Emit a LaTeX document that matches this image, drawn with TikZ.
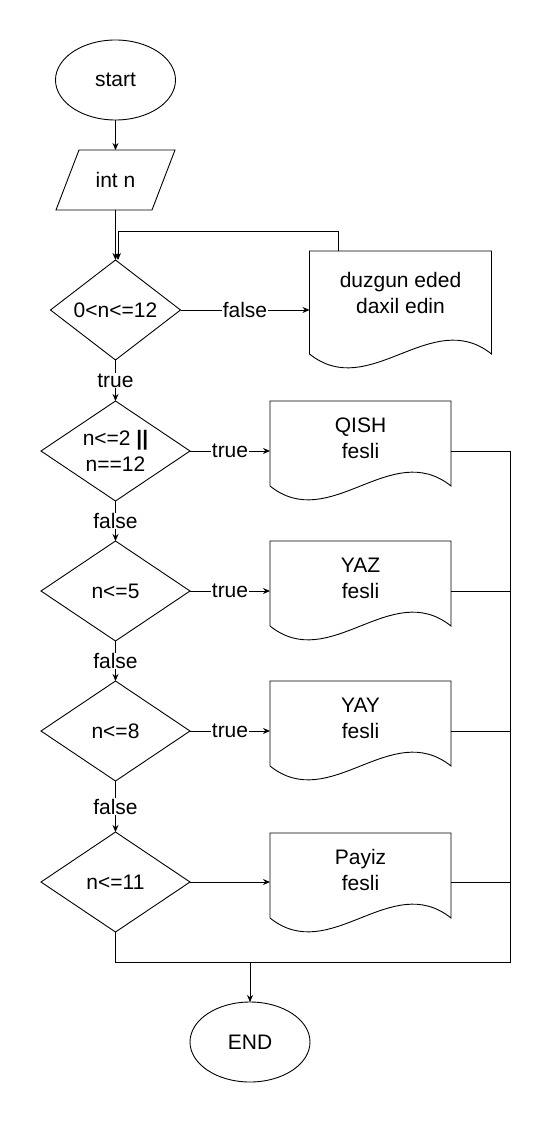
\documentclass[tikz,border=0pt]{standalone}
\usepackage{fontspec}
\setmainfont{Liberation Sans}
\usetikzlibrary{shapes.geometric}
\usetikzlibrary{positioning}
\usetikzlibrary{arrows.meta}
\usetikzlibrary{calc}

% outline of a document shape: node name, extra length of the sides
\newcommand{\docoutline}[2]{%
    \draw (#1.north west) -- (#1.north east) -- ([yshift=-#2]#1.south east)
        .. controls +(-60pt,48pt) and +(60pt,-48pt) .. ([yshift=-#2]#1.south west) -- cycle;}

% outline of a slanted input box: node name, half of the slant
\newcommand{\iooutline}[2]{%
    \draw ([xshift=#2]#1.north west) -- ([xshift=#2]#1.north east)
        -- ([xshift=-#2]#1.south east) -- ([xshift=-#2]#1.south west) -- cycle;}

\begin{document}
\begin{tikzpicture}[
                line width=0.9pt,
                font=\fontsize{21}{26}\selectfont,
                >={Stealth[length=7pt,width=6pt]},
                outer sep=0pt,
                term/.style={
                        draw,
                        ellipse,
                        minimum width=120pt,
                        minimum height=80pt,
                        inner sep=0pt
                    },
                io/.style={
                        rectangle,
                        minimum width=96pt,
                        minimum height=60pt,
                        inner sep=0pt
                    },
                decision/.style={
                        draw,
                        diamond,
                        aspect=1.5,
                        minimum width=149pt,
                        minimum height=100pt,
                        inner sep=0pt,
                        align=center
                    },
                docbox/.style={
                        minimum width=181pt,
                        minimum height=74pt,
                        inner sep=0pt,
                        align=center
                    },
                lbl/.style={
                        fill=white,
                        inner sep=0.5pt
                    }
            ]
            \useasboundingbox (0,0) rectangle (559pt,-1121pt);

            % Nodes of the main column
            \node[term] (start) at (115.5pt,-80pt) {start};
            \node[io, below=30pt of start] (input) {int n};
            \iooutline{input}{11.5pt}
            \node[decision, minimum width=130pt, below=50pt of input] (range) {0<n<=12};
            \node[decision, below=41pt of range] (winter) {n<=2 \textbf{||}\\n==12};
            \node[decision, below=40pt of winter] (spring) {n<=5};
            \node[decision, below=40pt of spring] (summer) {n<=8};
            \node[decision, below=51pt of summer] (autumn) {n<=11};

            % Documents on the right
            \node[docbox, minimum width=182pt, minimum height=84pt, right=129pt of range, yshift=17pt] (err) {duzgun eded\\daxil edin};
            \node[docbox, right=80pt of winter, yshift=13pt] (qish) {QISH\\fesli};
            \node[docbox, right=80pt of spring, yshift=13pt] (yaz) {YAZ\\fesli};
            \node[docbox, right=80pt of summer, yshift=13pt] (yay) {YAY\\fesli};
            \node[docbox, right=80pt of autumn, yshift=12pt] (payiz) {Payiz\\fesli};
            \docoutline{err}{19pt}
            \docoutline{qish}{11pt}
            \docoutline{yaz}{11pt}
            \docoutline{yay}{11pt}
            \docoutline{payiz}{11pt}

            % Points where the branches meet
            \coordinate[below=30pt of autumn] (low);
            \coordinate (rail) at ($(qish.east)+(59pt,0)$);
            \node[term] (end) at ($(low)+(134.5pt,-80pt)$) {END};
            \coordinate (join) at (end |- low);

            % Connectors
            \draw[->] (start) -- (input);
            \draw[->] (input) -- (range);
            \draw[->] (range) -- (err.west |- range) node[midway, lbl] {false};
            \draw[->] ([xshift=-62pt]err.north) -- ++(0,20pt) -| ([xshift=2.5pt]range.north);
            \draw[->] (range) -- (winter) node[midway, lbl] {true};
            \draw[->] (winter) -- (qish.west |- winter) node[midway, lbl] {true};
            \draw[->] (winter) -- (spring) node[midway, lbl] {false};
            \draw[->] (spring) -- (yaz.west |- spring) node[midway, lbl] {true};
            \draw[->] (spring) -- (summer) node[midway, lbl] {false};
            \draw[->] (summer) -- (yay.west |- summer) node[midway, lbl] {true};
            \draw[->] (summer) -- (autumn) node[midway, lbl] {false};
            \draw[->] (autumn) -- (payiz.west |- autumn);

            % Lines to the end
            \draw (qish.east |- winter) -- (rail |- winter);
            \draw (yaz.east |- spring) -- (rail |- spring);
            \draw (yay.east |- summer) -- (rail |- summer);
            \draw (payiz.east |- autumn) -- (rail |- autumn);
            \draw (autumn) -- (low) -- (rail |- low) -- (rail |- winter);
            \draw[->] (join) -- (end);

        \end{tikzpicture}
\end{document}
